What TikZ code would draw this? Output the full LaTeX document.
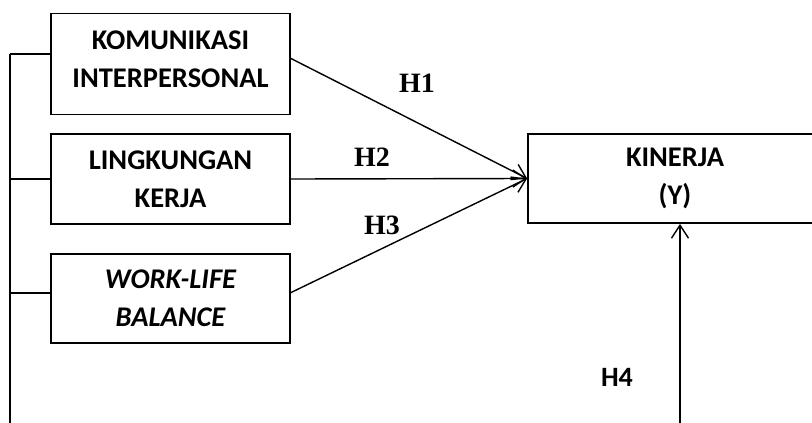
\documentclass[tikz,border=0pt]{standalone}
\usepackage{fontspec}
\setmainfont{Carlito}
\newfontfamily\timesfont{Liberation Serif}
\usetikzlibrary{arrows.meta,calc}
\begin{document}
\begin{tikzpicture}[x=1pt,y=-1pt,
  box/.style={draw,line width=1.8pt,inner sep=0pt,align=center,
    font=\bfseries\fontsize{28.5}{38}\selectfont},
  conn/.style={line width=1.4pt},
  arr/.style={conn,-{Straight Barb[length=13pt,width=17pt,line width=1.4pt]}},
  hlab/.style={font=\timesfont\bfseries\fontsize{28}{30}\selectfont},
  hlabsans/.style={font=\bfseries\fontsize{28}{30}\selectfont}]
\useasboundingbox (0,0) rectangle (812,423);
\begin{scope}
\clip (0,0) rectangle (812,423);
\node[box,minimum width=239pt,minimum height=101pt] (b1) at (170.5,64) {KOMUNIKASI\\INTERPERSONAL\\[-28pt]\mbox{}};
\node[box,minimum width=239pt,minimum height=90pt] (b2) at (170.5,179) {LINGKUNGAN\\KERJA};
\node[box,minimum width=239pt,minimum height=89pt] (b3) at (170.5,298.5) {\itshape WORK-LIFE\\\itshape BALANCE};
\node[box,minimum width=294pt,minimum height=89pt] (kin) at (675,178.5) {KINERJA\\(Y)};
\coordinate (top) at (10,54);
\coordinate (bot) at (10,430);
\coordinate (c3) at (10,293);
\coordinate (s1) at (290,58);
\coordinate (s3) at (290,293);
\coordinate (h4s) at (680,430);
\draw[conn] (top) -- (bot);
\draw[conn] (top) -- (top -| b1.west);
\draw[conn] (b2.west -| top) -- (b2.west);
\draw[conn] (c3) -- (c3 -| b3.west);
\draw[arr] (s1) -- (kin.west);
\draw[arr] (b2.east) -- (kin.west);
\draw[arr] (s3) -- (kin.west);
\draw[arr] (h4s) -- (h4s |- kin.south);
\node[hlab] (h1) at (417,83) {H1};
\node[hlab] (h2) at (372,157) {H2};
\node[hlab] (h3) at (382,225) {H3};
\node[hlabsans] (h4) at (617,377) {H4};
\end{scope}
\end{tikzpicture}
\end{document}
